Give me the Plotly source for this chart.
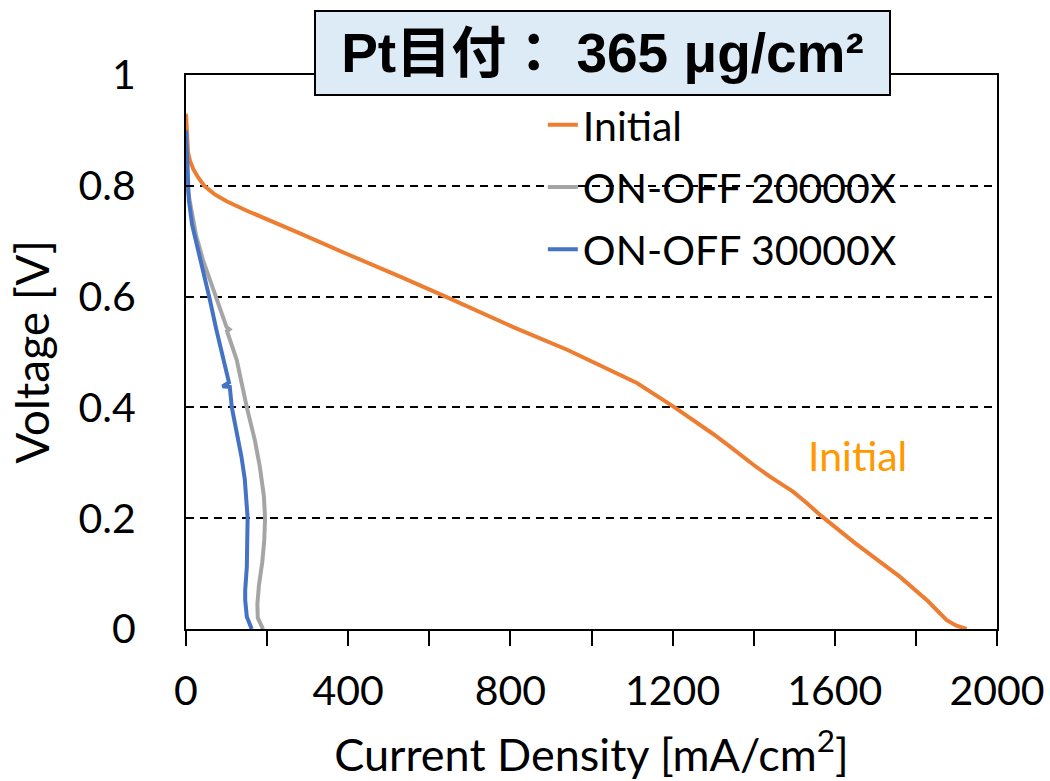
import plotly.graph_objects as go

# ---- data ----
init_x = [0, 2, 5, 10, 18, 30, 45, 70, 100, 150, 200, 281, 400, 478, 528, 643, 807, 940,
          1112, 1205, 1250, 1262, 1300, 1340, 1374, 1400, 1440, 1497, 1530, 1565, 1650,
          1761, 1830, 1876, 1900, 1925]
init_y = [0.93, 0.89, 0.86, 0.845, 0.83, 0.815, 0.80, 0.785, 0.772, 0.755, 0.74, 0.714,
          0.676, 0.652, 0.636, 0.599, 0.545, 0.504, 0.444, 0.40, 0.378, 0.372, 0.352, 0.33,
          0.31, 0.296, 0.275, 0.248, 0.228, 0.205, 0.155, 0.094, 0.05, 0.016, 0.006, 0.0]

c20k_x = [0, 2, 5, 15, 25, 42, 60, 76, 100, 107, 101, 125, 150, 170, 182, 192, 195, 193,
          188, 180, 176, 177, 190]
c20k_y = [0.90, 0.85, 0.79, 0.75, 0.71, 0.666, 0.63, 0.594, 0.545, 0.541, 0.538, 0.486, 0.40,
          0.34, 0.293, 0.24, 0.20, 0.16, 0.12, 0.08, 0.045, 0.02, 0.0]

c30k_x = [0, 3, 5, 7, 15, 25, 35, 47, 59, 75, 89, 100, 106, 90, 108, 113, 125, 137, 145,
          150, 152, 151, 150, 146, 146, 150, 162]
c30k_y = [0.90, 0.84, 0.80, 0.774, 0.73, 0.70, 0.666, 0.63, 0.594, 0.54, 0.498, 0.46, 0.445,
          0.438, 0.437, 0.40, 0.355, 0.31, 0.27, 0.233, 0.20, 0.16, 0.112, 0.07, 0.052, 0.022, 0.0]

series_names = ["Initial", "ON-OFF 20000X", "ON-OFF 30000X"]
series_colors = ["#ED7D31", "#A5A5A5", "#4472C4"]

FONT = "Lato, 'Open Sans', sans-serif"

fig = go.Figure()
for name, xs, ys, col in zip(series_names, [init_x, c20k_x, c30k_x],
                             [init_y, c20k_y, c30k_y], series_colors):
    fig.add_trace(go.Scatter(x=xs, y=ys, mode="lines", name=name, legendgroup=name,
                             line=dict(color=col, width=4)))

fig.update_layout(
    width=1050, height=781,
    margin=dict(l=186, r=53, t=75, b=152, autoexpand=False),
    paper_bgcolor="white", plot_bgcolor="white",
    font=dict(family=FONT, size=41, color="black"),
    showlegend=True,
    legend=dict(x=0.44, y=0.97, xanchor="left", yanchor="top",
                bgcolor="rgba(0,0,0,0)", font=dict(size=41, family=FONT),
                tracegroupgap=6, traceorder="grouped"),
    xaxis=dict(range=[0, 2000], dtick=400, tick0=0, showgrid=False, zeroline=False,
               automargin=False,
               showline=True, linecolor="black", linewidth=2, mirror=True,
               ticks="outside", ticklen=15, tickwidth=2, tickcolor="black",
               minor=dict(dtick=200, ticks="outside", ticklen=15, tickwidth=2,
                          tickcolor="black", showgrid=False),
               ticklabelstandoff=10,
               title=dict(text="Current Density [mA/cm<sup>2</sup>]", standoff=32,
                          font=dict(size=45, family=FONT))),
    yaxis=dict(range=[0, 1], dtick=0.2, tick0=0, showgrid=True, gridcolor="black",
               gridwidth=2, griddash="8px,6px", zeroline=False,
               automargin=False,
               showline=True, linecolor="black", linewidth=2, mirror=True,
               ticks="inside", ticklen=5, tickwidth=2, tickcolor="black",
               ticklabelstandoff=40,
               title=dict(text="Voltage [V]", standoff=14,
                          font=dict(size=46, family=FONT))),
    annotations=[
        dict(text="Pt目付： 365 μg/cm²", x=0.514, y=1.039, xref="paper", yref="paper",
             xanchor="center", yanchor="middle", showarrow=False,
             font=dict(family="'Liberation Sans', Arial, 'Noto Sans CJK JP'", size=55,
                       color="black", weight="bold"),
             width=557, height=66,
             bgcolor="#DDEBF7", bordercolor="black", borderwidth=2, borderpad=8),
        dict(text="Initial", x=1655, y=0.314, xref="x", yref="y", showarrow=False,
             xanchor="center", yanchor="middle",
             font=dict(family=FONT, size=41, color="#FF9900")),
    ],
)

fig.write_html("out.html")
